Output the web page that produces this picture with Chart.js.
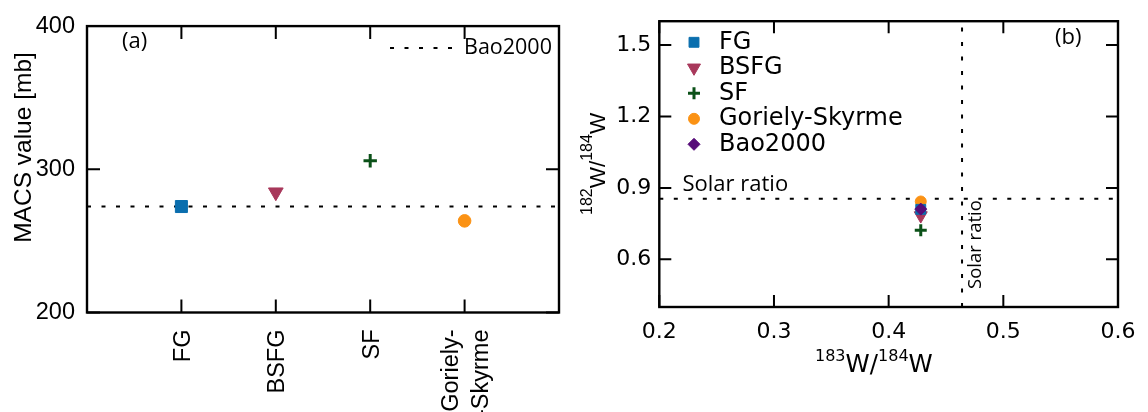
<!DOCTYPE html>
<html><head><meta charset="utf-8">
<script src="https://cdn.jsdelivr.net/npm/chart.js@4/dist/chart.umd.min.js"></script>
<style>
html,body{margin:0;padding:0;background:#fff;}
#wrap{position:relative;width:1148px;height:412px;overflow:hidden;background:#fff;}
canvas{position:absolute;top:0;}
#ca{left:0;} #cb{left:574px;}
</style></head><body>
<div id="wrap"><canvas id="ca" width="574" height="412"></canvas><canvas id="cb" width="574" height="412"></canvas></div>
<script>
// ---------- Panel (a) data ----------
const categories = ['FG', 'BSFG', 'SF', ['Goriely-', '-Skyrme']];
const macsValues = [274, 284, 306, 264];
const macsBao2000 = 274;
const macsTicks = [200, 300, 400];
// ---------- Panel (b) data ----------
const seriesNames = ['FG', 'BSFG', 'SF', 'Goriely-Skyrme', 'Bao2000'];
const ratio183 = [0.428, 0.428, 0.428, 0.428, 0.428];
const ratio182 = [0.81, 0.784, 0.722, 0.843, 0.811];
const solar183 = 0.464;
const solar182 = 0.854;
const xTicksB = [0.2, 0.3, 0.4, 0.5, 0.6];
const yTicksB = [0.6, 0.9, 1.2, 1.5];

// ---------- styles ----------
const colors = ['#0a6eae', '#a8385b', '#0b5118', '#fb9214', '#570c79'];
const styles = ['rect', 'triangle', 'cross', 'circle', 'rectRot'];
const rots = [0, 180, 0, 0, 0];
const radA = [8.5, 8.5, 6.7, 6.3, 7];
const radB = [7, 7.5, 6, 5.5, 6];
const bwA = [1, 1, 3, 1, 1];
const bwB = [1, 1, 3, 1, 1];
const orderB = [1, 2, 4, 3, 0];
const H = Chart.helpers;

function marker(ctx, i, r, bw, x, y) {
  ctx.save();
  ctx.fillStyle = colors[i]; ctx.strokeStyle = colors[i]; ctx.lineWidth = bw;
  ctx.setLineDash([]);
  H.drawPoint(ctx, {pointStyle: styles[i], radius: r, rotation: rots[i], borderWidth: bw}, x, y);
  ctx.restore();
}
function parts(ctx, list, x, y) {
  let cx = x;
  list.forEach(p => { ctx.font = p.f; ctx.fillText(p.t, cx, y - (p.dy || 0)); cx += ctx.measureText(p.t).width; });
}

// ---------- Chart (a) ----------
const dsA = categories.map((c, i) => ({
  label: [].concat(c).join(''),
  data: [{x: i + 1, y: macsValues[i]}],
  pointStyle: styles[i], pointRotation: rots[i], pointRadius: radA[i],
  backgroundColor: colors[i], borderColor: colors[i], borderWidth: bwA[i], order: 1
}));
dsA.push({
  label: 'Bao2000', data: [{x: 0, y: macsBao2000}, {x: categories.length + 1, y: macsBao2000}],
  showLine: true, pointRadius: 0, borderColor: '#000', borderWidth: 2, borderDash: [4, 10.5], order: 10
});

const decorA = {
  id: 'decorA',
  afterDraw(chart) {
    const {ctx, chartArea: a, scales: {x, y}} = chart;
    ctx.save();
    ctx.strokeStyle = '#000'; ctx.lineWidth = 2.4;
    ctx.strokeRect(a.left, a.top, a.right - a.left, a.bottom - a.top);
    ctx.lineWidth = 2;
    ctx.beginPath();
    categories.forEach((c, i) => {
      const px = x.getPixelForValue(i + 1);
      ctx.moveTo(px, a.bottom); ctx.lineTo(px, a.bottom - 13);
      ctx.moveTo(px, a.top); ctx.lineTo(px, a.top + 13);
    });
    macsTicks.forEach(v => {
      const py = y.getPixelForValue(v);
      ctx.moveTo(a.left, py); ctx.lineTo(a.left + 13, py);
      ctx.moveTo(a.right, py); ctx.lineTo(a.right - 13, py);
    });
    ctx.stroke();
    // category labels
    ctx.fillStyle = '#000';
    ctx.font = '23.5px "Liberation Sans"'; ctx.textAlign = 'right'; ctx.textBaseline = 'middle';
    categories.forEach((c, i) => {
      const lines = [].concat(c);
      const px = x.getPixelForValue(i + 1);
      lines.forEach((ln, k) => {
        ctx.save();
        ctx.translate(px + 2 + (k - (lines.length - 1) / 2) * 30, a.bottom + 17);
        ctx.rotate(-Math.PI / 2);
        ctx.fillText(ln, 0, 0);
        ctx.restore();
      });
    });
    // y title
    ctx.save();
    ctx.translate(24, 147.5); ctx.rotate(-Math.PI / 2);
    ctx.textAlign = 'center'; ctx.font = '24.5px "Liberation Sans"';
    ctx.fillText('MACS value [mb]', 0, 0);
    ctx.restore();
    // panel tag
    ctx.textAlign = 'left';
    ctx.font = '22px "Open Sans"';
    ctx.fillText('(a)', 122, 41.7);
    // legend
    ctx.beginPath(); ctx.setLineDash([4, 10.5]); ctx.lineWidth = 2;
    ctx.moveTo(390, 48); ctx.lineTo(452, 48); ctx.stroke();
    ctx.setLineDash([]);
    ctx.font = '21.5px "Open Sans"';
    ctx.fillText('Bao2000', 464, 48);
    ctx.restore();
  }
};

new Chart(document.getElementById('ca'), {
  type: 'scatter',
  data: {datasets: dsA},
  options: {
    responsive: false, animation: false, events: [],
    layout: {padding: {top: 20.5, right: 15, left: 0, bottom: 0}},
    plugins: {legend: {display: false}, tooltip: {enabled: false}},
    scales: {
      x: {
        type: 'linear', min: 0, max: categories.length + 1,
        ticks: {display: false}, grid: {display: false, drawTicks: false}, border: {display: false},
        afterFit: s => { s.height = 99.5; }
      },
      y: {
        type: 'linear', min: 200, max: 400,
        afterBuildTicks: s => { s.ticks = macsTicks.map(v => ({value: v})); },
        ticks: {color: '#000', padding: 12, font: {family: 'Liberation Sans', size: 23.5}},
        grid: {display: false, drawTicks: false}, border: {display: false},
        afterFit: s => { s.width = 87; }
      }
    }
  },
  plugins: [decorA]
});

// ---------- Chart (b) ----------
const dsB = seriesNames.map((n, i) => ({
  label: n,
  data: [{x: ratio183[i], y: ratio182[i]}],
  pointStyle: styles[i], pointRotation: rots[i], pointRadius: radB[i],
  backgroundColor: colors[i], borderColor: colors[i], borderWidth: bwB[i], order: orderB[i]
}));
dsB.push({
  label: 'Solar ratio', data: [{x: xTicksB[0], y: solar182}, {x: xTicksB[xTicksB.length - 1], y: solar182}],
  showLine: true, pointRadius: 0, borderColor: '#000', borderWidth: 2, borderDash: [4, 10.5], order: 10
});
dsB.push({
  label: 'Solar ratio', data: [{x: solar183, y: 0.4}, {x: solar183, y: 1.6}],
  showLine: true, pointRadius: 0, borderColor: '#000', borderWidth: 2, borderDash: [4, 10.5], order: 10
});

const decorB = {
  id: 'decorB',
  afterDraw(chart) {
    const {ctx, chartArea: a, scales: {x, y}} = chart;
    ctx.save();
    ctx.strokeStyle = '#000'; ctx.lineWidth = 2.4;
    ctx.strokeRect(a.left, a.top, a.right - a.left, a.bottom - a.top);
    ctx.lineWidth = 2;
    ctx.beginPath();
    xTicksB.forEach(v => {
      const px = x.getPixelForValue(v);
      ctx.moveTo(px, a.bottom); ctx.lineTo(px, a.bottom - 12);
      ctx.moveTo(px, a.top); ctx.lineTo(px, a.top + 12);
    });
    yTicksB.forEach(v => {
      const py = y.getPixelForValue(v);
      ctx.moveTo(a.left, py); ctx.lineTo(a.left + 12, py);
      ctx.moveTo(a.right, py); ctx.lineTo(a.right - 12, py);
    });
    ctx.stroke();
    ctx.fillStyle = '#000';
    // legend
    ctx.textAlign = 'left'; ctx.textBaseline = 'middle';
    ctx.font = '24px "DejaVu Sans"';
    seriesNames.forEach((n, i) => {
      const ly = 42.3 + i * 25.5;
      marker(ctx, i, radB[i], bwB[i], 120, ly);
      ctx.fillStyle = '#000';
      ctx.fillText(n, 145, ly);
    });
    // panel tag
    ctx.font = '22px "Open Sans"';
    ctx.fillText('(b)', 481, 38);
    // solar ratio labels
    ctx.font = '22px "Open Sans"';
    ctx.fillText('Solar ratio', 108.5, y.getPixelForValue(solar182) - 14.6);
    ctx.save();
    ctx.translate(x.getPixelForValue(solar183) + 14, 289);
    ctx.rotate(-Math.PI / 2);
    ctx.font = '18.5px "Open Sans"';
    ctx.fillText('Solar ratio', 0, 0);
    ctx.restore();
    // x title
    ctx.textBaseline = 'alphabetic';
    parts(ctx, [
      {t: '183', f: '16px "DejaVu Sans"', dy: 11},
      {t: 'W/', f: '24.5px "DejaVu Sans"'},
      {t: '184', f: '16px "DejaVu Sans"', dy: 11},
      {t: 'W', f: '24.5px "DejaVu Sans"'}
    ], 241, 371.7);
    // y title
    ctx.save();
    ctx.translate(31.3, 215); ctx.rotate(-Math.PI / 2);
    parts(ctx, [
      {t: '182', f: '16px "Liberation Sans"', dy: 13},
      {t: 'W/', f: '22.5px "Liberation Sans"'},
      {t: '184', f: '16px "Liberation Sans"', dy: 13},
      {t: 'W', f: '22.5px "Liberation Sans"'}
    ], 0, 0);
    ctx.restore();
    ctx.restore();
  }
};

new Chart(document.getElementById('cb'), {
  type: 'scatter',
  data: {datasets: dsB},
  options: {
    responsive: false, animation: false, events: [],
    layout: {padding: {top: 15, right: 30, left: 0, bottom: 0}},
    plugins: {legend: {display: false}, tooltip: {enabled: false}},
    scales: {
      x: {
        type: 'linear', min: 0.2, max: 0.6,
        afterBuildTicks: s => { s.ticks = xTicksB.map(v => ({value: v})); },
        ticks: {color: '#000', padding: 12, autoSkip: false, maxRotation: 0, font: {family: 'DejaVu Sans', size: 22}, callback: v => v.toFixed(1)},
        grid: {display: false, drawTicks: false}, border: {display: false},
        afterFit: s => { s.height = 105; }
      },
      y: {
        type: 'linear', min: 0.4, max: 1.6,
        afterBuildTicks: s => { s.ticks = yTicksB.map(v => ({value: v})); },
        ticks: {color: '#000', padding: 8, font: {family: 'DejaVu Sans', size: 22}, callback: v => v.toFixed(1)},
        grid: {display: false, drawTicks: false}, border: {display: false},
        afterFit: s => { s.width = 85.3; }
      }
    }
  },
  plugins: [decorB]
});
</script>
</body></html>
